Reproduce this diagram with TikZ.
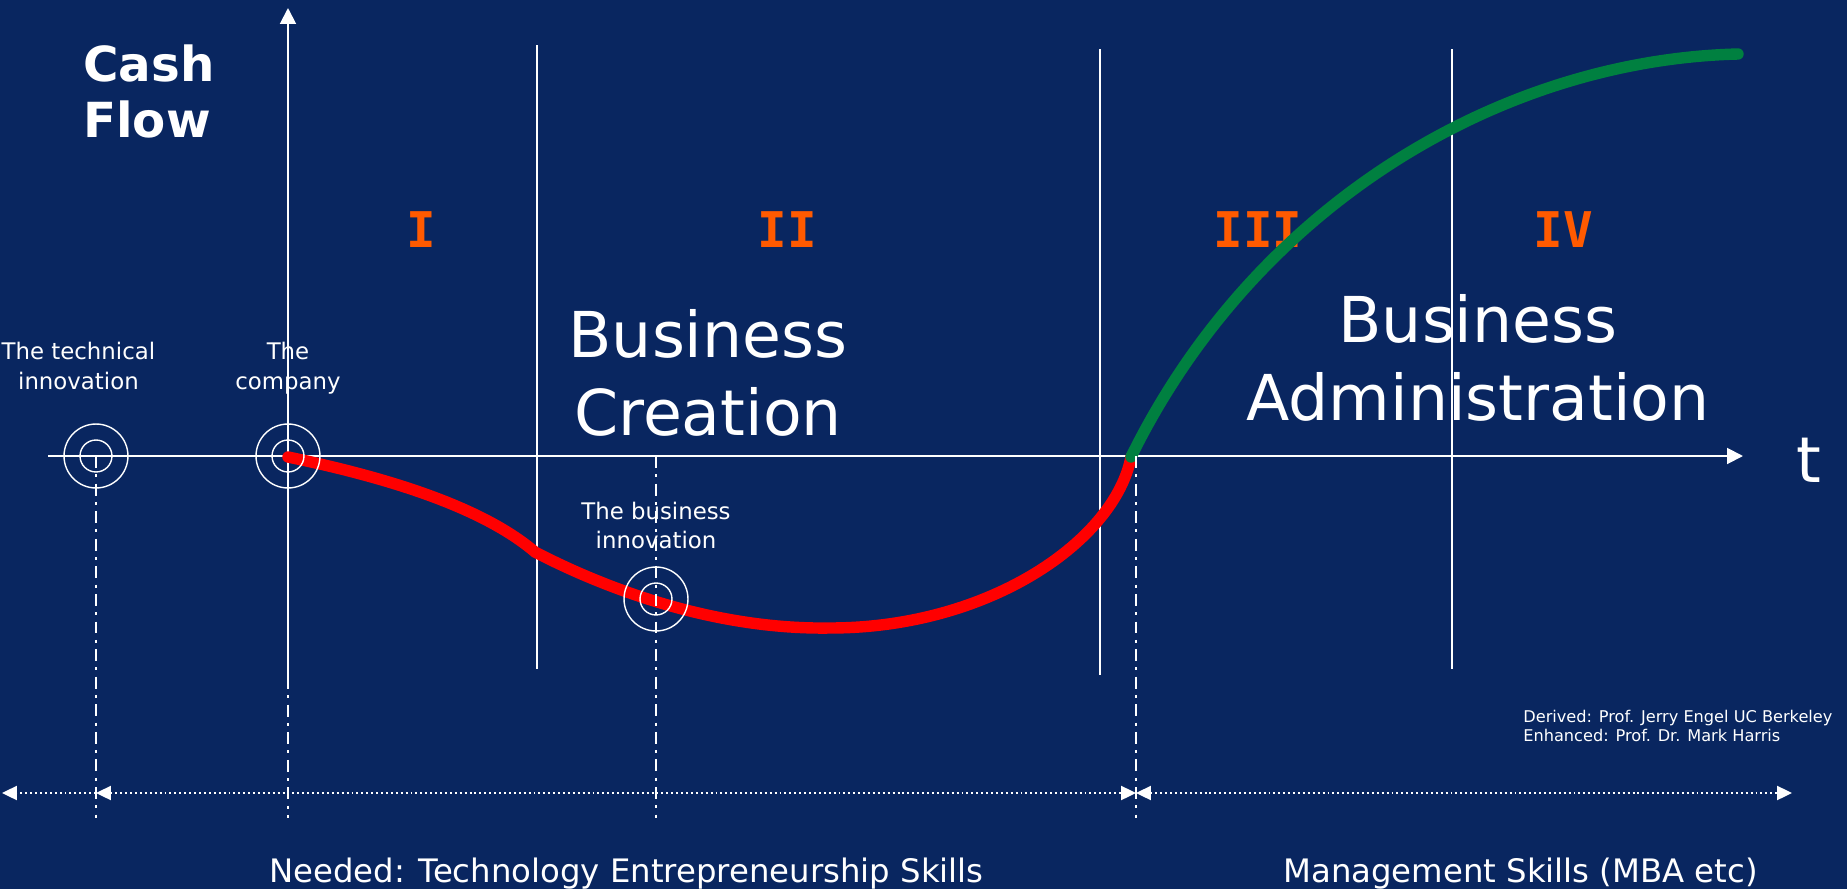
\documentclass[tikz,border=0pt]{standalone}
\usepackage{fontspec}
\setmainfont{DejaVu Sans}
\newfontfamily\phasefont{DejaVu Sans Mono}
\usetikzlibrary{positioning}
\usetikzlibrary{arrows.meta}

\definecolor{slide}{RGB}{9,38,96}
\definecolor{phaseorange}{RGB}{255,90,0}
\definecolor{loss}{RGB}{255,0,0}
\definecolor{gain}{RGB}{0,128,64}

\begin{document}
\begin{tikzpicture}[x=0.02cm, y=-0.02cm,
    every node/.style={text=white, inner sep=0pt},
    axis/.style={draw=white, line width=1.1pt, -{Triangle[length=9pt, width=9pt]}},
    divider/.style={draw=white, line width=1.1pt},
    guide/.style={draw=white, line width=1.1pt, dash pattern=on 6.8pt off 3.6pt on 1.7pt off 3.6pt},
    span/.style={draw=white, line width=1.1pt, dash pattern=on 1.1pt off 1.7pt, >={Triangle[length=8.5pt, width=8pt]}},
    target/.style={circle, draw=white, line width=0.8pt, minimum size=36.4pt},
    bullseye/.style={circle, draw=white, line width=0.8pt, minimum size=18.2pt},
    event/.style={font=\fontsize{13}{17}\selectfont, align=center, text depth=0pt},
    phase/.style={text=phaseorange, font=\phasefont\bfseries\fontsize{28}{28}\selectfont},
    stage/.style={font=\fontsize{36}{44}\selectfont, align=center},
    skill/.style={font=\fontsize{18.4}{22}\selectfont, anchor=base west},
    curve/.style={line width=6.5pt, line cap=round}]
        \fill[slide] (0,0) rectangle (1847,889);
        \useasboundingbox (0,0) rectangle (1847,889);
        
        \coordinate (ytop) at (288,8);
        \coordinate (yfoot) at (288,677);
        \coordinate (xstart) at (48,456);
        \coordinate (xend) at (1743,456);
        \coordinate (foot) at (0,818);
        \coordinate (spanl) at (2,793);
        \coordinate (spanr) at (1792,793);
        \coordinate (turn) at (1131,457);
        \coordinate (brk) at (1136,456);
        
        \node[anchor=north west, font=\bfseries\fontsize{27.5}{32}\selectfont, align=left] (cash) at (83,44) {Cash\\Flow};
        \foreach \xx/\num [count=\i] in {421/I, 787/II, 1258/III, 1563/IV}
            \node[phase] (phase \i) at (\xx,230) {\num};
        \node[stage] (creation) at (708,373) {Business\\Creation};
        \node[stage] (admin) at (1478,358) {Business\\Administration};
        \node[font=\fontsize{36}{36}\selectfont, anchor=base] (time) at (1809,482) {t};
        
        \foreach \xx/\ya/\yb in {537/45/669, 1100/49/675, 1452/49/669}
            \draw[divider] (\xx,\ya) -- (\xx,\yb);
        \draw[axis] (xstart) -- (xend);
        \draw[axis] (yfoot) -- (ytop);
        
        \draw[curve, loss] (288,457) .. controls (380,476) and (480,505) .. (535,552)
            .. controls (585,578) and (700,630) .. (830,628)
            .. controls (990,628) and (1115,540) .. (turn);
        \draw[curve, gain] (turn) .. controls (1255,205) and (1500,60) .. (1738,54);
        
        \node[target] (tech) at (96,456) {};
        \node[bullseye] (tech core) at (tech) {};
        \node[target] (comp) at (288,456) {};
        \node[bullseye] (comp core) at (comp) {};
        \node[target] (binn) at (656,599) {};
        \node[bullseye] (binn core) at (binn) {};
        
        \node[event, above=19.3pt of tech, xshift=-10pt] (tech label) {The technical\\innovation};
        \node[event, above=19.3pt of comp] (comp label) {The\\company};
        \node[event, above=9.7pt of binn] (binn label) {The business\\innovation};
        
        \draw[guide] (tech.center) -- (tech |- foot);
        \draw[guide] (yfoot) -- (yfoot |- foot);
        \draw[guide] (binn |- xstart) -- (binn |- foot);
        \draw[guide] (brk) -- (brk |- foot);
        
        \draw[span, ->] (tech |- spanl) -- (spanl);
        \draw[span, <->] (tech |- spanl) -- (brk |- spanl);
        \draw[span, <->] (brk |- spanl) -- (spanr);
        
        \node[skill] (tech skills) at (269,882) {Needed: Technology Entrepreneurship Skills};
        \node[skill] (mgmt skills) at (1283,882) {Management Skills (MBA etc)};
        \node[anchor=north west, font=\fontsize{9.2}{11}\selectfont, align=left] (credit) at (1523,710) {Derived: Prof. Jerry Engel UC Berkeley\\Enhanced: Prof. Dr. Mark Harris};
    \end{tikzpicture}
\end{document}
